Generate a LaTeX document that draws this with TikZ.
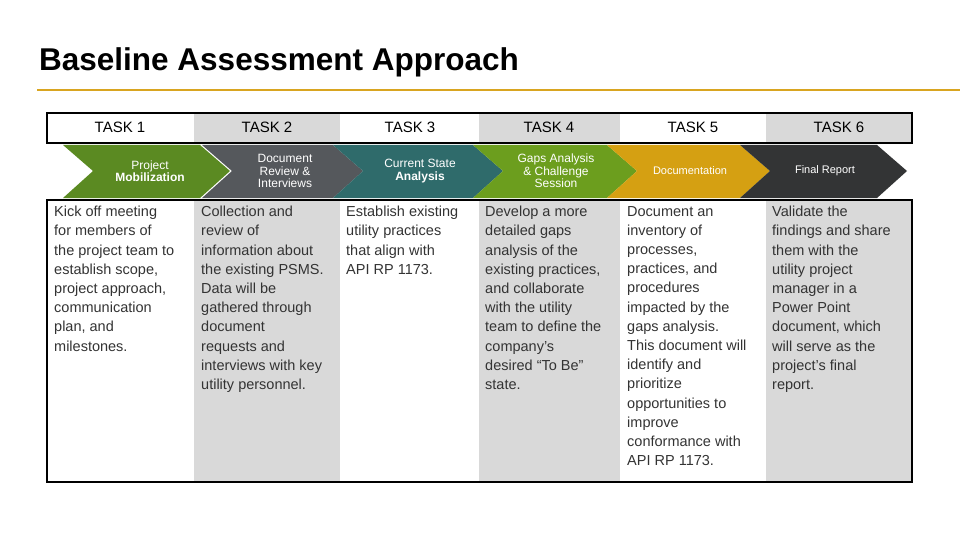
\documentclass[tikz,border=0pt]{standalone}
\usepackage{fontspec}
\setmainfont{Liberation Sans}
\definecolor{cA}{HTML}{5B8A22}
\definecolor{cB}{HTML}{55585C}
\definecolor{cC}{HTML}{2F6B6B}
\definecolor{cD}{HTML}{6C9E1E}
\definecolor{cE}{HTML}{D5A012}
\definecolor{cF}{HTML}{333435}
\definecolor{gold}{HTML}{D9A520}
\begin{document}
\begin{tikzpicture}[x=1pt,y=-1pt,
  body/.style={anchor=north west,align=left,inner sep=0pt,font=\fontsize{14.5}{19.2}\selectfont,text=black!80},
  hdr/.style={anchor=center,inner sep=0pt,font=\fontsize{15}{16}\selectfont},
  ctext/.style={text=white,align=center,inner sep=0pt,font=\fontsize{12}{12.5}\selectfont}]
\useasboundingbox (0,0) rectangle (960,540);
\node[anchor=west,inner sep=0pt,font=\fontsize{31.5}{33}\selectfont\bfseries] (title) at (39,62) {Baseline Assessment Approach};
\draw[draw=gold,line width=1.5pt] (37,90) -- (960,90);
% column backgrounds
\fill[gray!30] (194,113) rectangle (340,482);
\fill[gray!30] (479,113) rectangle (620,482);
\fill[gray!30] (766,113) rectangle (912,482);
\fill[white] (47,143) rectangle (912,200);
\draw[line width=1.3pt] (47,113) rectangle (912,143);
\draw[line width=1.3pt] (47,200) rectangle (912,482);
\foreach \n/\x in {1/120,2/267,3/410,4/549,5/693,6/839}
  \node[hdr] (t\n) at (\x,127) {TASK \n};
% chevrons
\foreach \a/\b/\c in {63/200/cA,202/333/cB,333/473/cC,473/607/cD,607/740/cE,740/877/cF}{
  \fill[\c] (\a,145) -- (\b,145) -- (\b+30,171) -- (\b,198) -- (\a,198) -- (\a+30,171) -- cycle;
}
\node[ctext] (c1) at (150,171) {Project\\ \textbf{Mobilization}};
\node[ctext] (c2) at (285,171) {Document\\ Review \&\\ Interviews};
\node[ctext] (c3) at (420,171) {Current State\\ \textbf{Analysis}};
\node[ctext] (c4) at (556,171) {Gaps Analysis\\ \& Challenge\\ Session};
\node[ctext,font=\fontsize{11}{12}\selectfont] (c5) at (690,171) {Documentation};
\node[ctext,font=\fontsize{11}{12}\selectfont] (c6) at (825,171) {Final Report};
% body
\node[body] (b1) at (54,206) {Kick off meeting\\for members of\\the project team to\\establish scope,\\project approach,\\communication\\plan, and\\milestones.};
\node[body] (b2) at (201,206) {Collection and\\review of\\information about\\the existing PSMS.\\Data will be\\gathered through\\document\\requests and\\interviews with key\\utility personnel.};
\node[body] (b3) at (346,206) {Establish existing\\utility practices\\that align with\\API RP 1173.};
\node[body] (b4) at (485,206) {Develop a more\\detailed gaps\\analysis of the\\existing practices,\\and collaborate\\with the utility\\team to define the\\company's\\desired ``To Be''\\state.};
\node[body] (b5) at (627,206) {Document an\\inventory of\\processes,\\practices, and\\procedures\\impacted by the\\gaps analysis.\\This document will\\identify and\\prioritize\\opportunities to\\improve\\conformance with\\API RP 1173.};
\node[body] (b6) at (772,206) {Validate the\\findings and share\\them with the\\utility project\\manager in a\\Power Point\\document, which\\will serve as the\\project's final\\report.};
\end{tikzpicture}
\end{document}
